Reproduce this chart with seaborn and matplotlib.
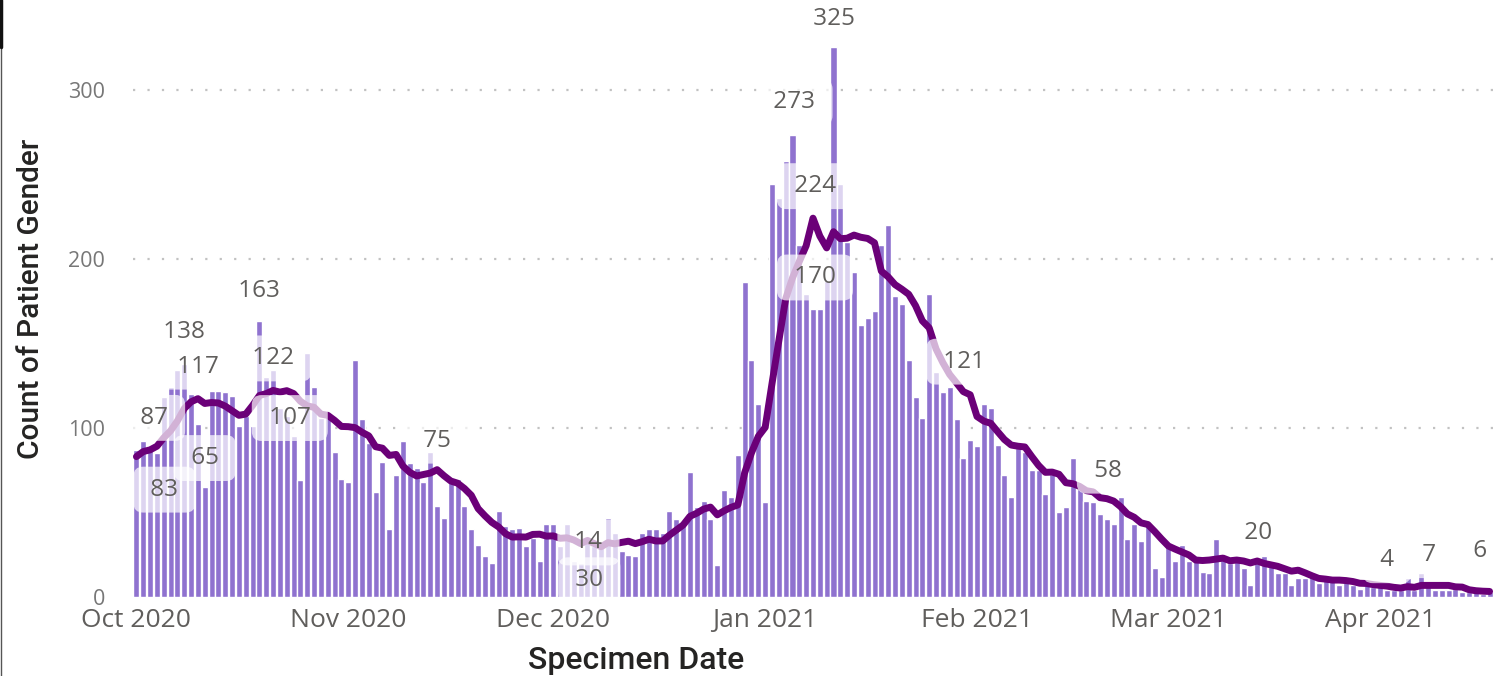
"""Daily specimen counts, Oct 2020 - Apr 2021, with a 7-day rolling average."""
import pandas as pd
import matplotlib.pyplot as plt
from matplotlib.lines import Line2D
import seaborn as sns

sns.set_theme(style="white")
plt.rcParams["font.family"] = ["Open Sans", "DejaVu Sans"]

BAR_COLOR = "#8F72CF"
LINE_COLOR = "#6B0078"
LABEL_COLOR = "#605E5C"

START = "2020-10-01"
# 25-30 Sep: not drawn, only feeds the first rolling-average points
SEPT_TAIL = [71, 82, 70, 83, 95, 93]
COUNTS = [
    87, 92, 89, 85, 118, 124, 134, 138, 120, 102, 65, 122, 122, 121, 119, 101,
    107, 101, 163, 130, 134, 112, 107, 95, 69, 144, 124, 106, 107, 86, 70,
    68, 140, 105, 91, 62, 80, 40, 72, 92, 79, 76, 68, 86, 54, 47, 70, 70, 54,
    40, 31, 24, 20, 51, 42, 40, 41, 30, 35, 21,
    43, 43, 30, 43, 21, 20, 34, 30, 30, 47, 38, 27, 25, 24, 38, 40, 40, 38,
    51, 46, 45, 74, 53, 57, 46, 19, 63, 59, 84, 186, 140, 114,
    56, 244, 236, 258, 273, 208, 179, 170, 170, 187, 325, 244, 210, 192, 161,
    165, 169, 208, 220, 178, 173, 140, 118, 106, 179, 133, 121, 124, 105, 82,
    93, 89, 114, 112, 90, 72, 59, 88, 86, 75, 75, 61, 73, 50, 53, 82, 64,
    57, 56, 49, 46, 43, 59, 34, 43, 33, 42, 17, 12, 30, 21, 31, 21,
    21, 15, 14, 34, 25, 20, 24, 17, 7, 22, 24, 19, 14, 14, 7, 11, 11, 12,
    8, 11, 10, 7, 9, 7, 5, 7, 6,
    7, 4, 4, 4, 11, 4, 14, 7, 4, 4, 4, 5, 3, 3, 3, 2, 3,
]

# data labels as shown in the report
BAR_LABEL_DAYS = [7, 10, 18, 22, 67, 96, 99, 102, 183, 189, 198]
BAR_LABEL_TEXT = ["138", "65", "163", "107", "30", "273", "170", "325", "4", "7", "6"]
BAR_LABEL_OFFSET = [(0, 32), (0, 29), (0, 30), (3, -2), (-5, -34), (2, 33),
                    (2, 32), (1, 28), (0, 30), (1, 30), (-9, 41)]
LINE_LABEL_DAYS = [0, 2, 9, 20, 44, 66, 99, 121, 142, 164]
LINE_LABEL_TEXT = ["83", "87", "117", "122", "75", "14", "224", "121", "58", "20"]
LINE_LABEL_OFFSET = [(28, -33), (4, 32), (0, 32), (0, 32), (0, 29), (1, -2),
                     (2, 32), (1, 30), (1, 28), (1, 28)]

dates = pd.date_range(START, periods=len(COUNTS), freq="D")
rolling = pd.Series(SEPT_TAIL + COUNTS).rolling(7).mean().iloc[len(SEPT_TAIL):]
df = pd.DataFrame({"day": range(len(COUNTS)), "date": dates,
                   "count": COUNTS, "avg": rolling.to_numpy()})

fig = plt.figure(figsize=(14.93, 6.76), dpi=100)
ax = fig.add_axes([133 / 1493, 79 / 676, 1360 / 1493, 597 / 676])

sns.barplot(data=df, x="day", y="count", color=BAR_COLOR, saturation=1,
            width=0.88, ax=ax, zorder=2)
sns.lineplot(data=df, x="day", y="avg", color=LINE_COLOR, linewidth=5,
             ax=ax, zorder=3)

box = dict(boxstyle="round,pad=0.45,rounding_size=0.4", fc="white", ec="none", alpha=0.7)
for d, t, (dx, dy) in zip(BAR_LABEL_DAYS, BAR_LABEL_TEXT, BAR_LABEL_OFFSET):
    ax.annotate(f" {t} ", xy=(d, df["count"][d]), xytext=(dx, dy),
                textcoords="offset pixels", ha="center", va="center",
                fontsize=17.5, color=LABEL_COLOR, bbox=box, zorder=5)
for d, t, (dx, dy) in zip(LINE_LABEL_DAYS, LINE_LABEL_TEXT, LINE_LABEL_OFFSET):
    ax.annotate(f" {t} ", xy=(d, df["avg"][d]), xytext=(dx, dy),
                textcoords="offset pixels", ha="center", va="center",
                fontsize=17.5, color=LABEL_COLOR, bbox=box, zorder=5)

ax.set_xlim(-0.5, len(COUNTS) - 0.5)
ax.set_ylim(0, 353)
month_starts = df.index[df["date"].dt.day == 1]
ax.set_xticks(month_starts)
ax.set_xticklabels(df["date"][month_starts].dt.strftime("%b %Y"),
                   fontsize=19, color="#605E5C")
ax.set_yticks([0, 100, 200, 300])
ax.set_yticklabels(["0", "100", "200", "300"], fontsize=15.5, color="#777777")
ax.tick_params(axis="x", length=0, pad=8)
ax.tick_params(axis="y", length=0, pad=20)
for y in [0, 100, 200, 300]:
    ax.axhline(y, color="#C2C2C2", linewidth=1.6, linestyle=(0, (1, 5.5)), zorder=1)
sns.despine(ax=ax, left=True, bottom=True)

title_font = dict(family=["Roboto", "DejaVu Sans"], fontweight="medium",
                  color="#252423")
ax.set_xlabel("Specimen Date", fontsize=23, **title_font)
ax.set_ylabel("Count of Patient Gender", fontsize=21.5, **title_font)
ax.xaxis.set_label_coords(0.37, -0.082)
ax.yaxis.set_label_coords(-0.065, 0.5)

# frame edge left over from the report canvas
fig.add_artist(Line2D([0.001, 0.001], [0, 1], color="#555555", linewidth=1))
fig.add_artist(Line2D([0.001, 0.001], [0.93, 1], color="#111111", linewidth=2.5))

fig.savefig("out.png", dpi=100)
